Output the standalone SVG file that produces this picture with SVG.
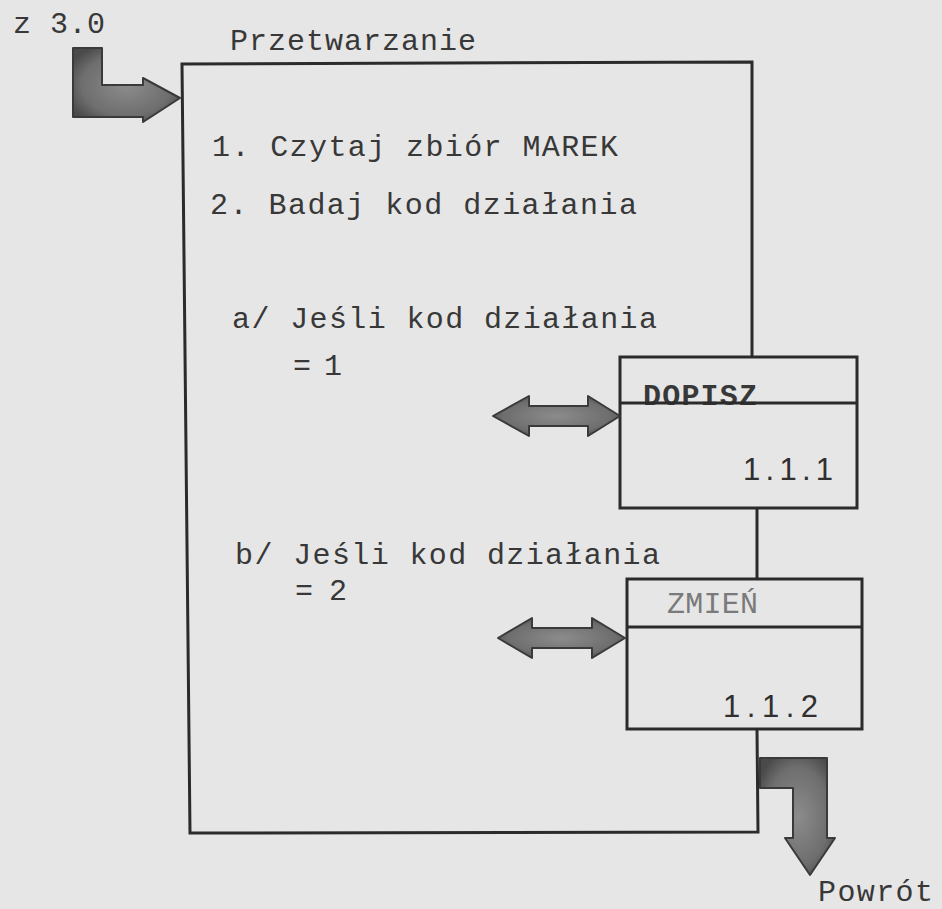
<svg xmlns="http://www.w3.org/2000/svg" width="942" height="909" viewBox="0 0 942 909">
  <defs>
    <radialGradient id="ink" cx="50%" cy="50%" r="60%">
      <stop offset="0" stop-color="#8c8c8c"/>
      <stop offset="0.7" stop-color="#6e6e6e"/>
      <stop offset="1" stop-color="#4a4a4a"/>
    </radialGradient>
  </defs>
  <style>
    .tw { font-family: "Liberation Mono", "Courier New", monospace; font-size: 30px; fill: #383838; }
    .num { font-family: "Liberation Sans", Arial, sans-serif; font-size: 31px; fill: #303030; }
    .edge { fill: none; stroke: #2b2b2b; stroke-width: 3; stroke-linejoin: miter; }
    .thick { fill: url(#ink); stroke: #3a3a3a; stroke-width: 2; stroke-linejoin: round; }
  </style>

  <!-- paper -->
  <rect x="0" y="0" width="942" height="909" fill="#e6e6e6"/>

  <!-- main process box -->
  <g id="przetwarzanie">
    <path class="edge" d="M752,357 L752,62 L182,64 L190,833 L758,832 L757,729"/>
    <path class="edge" d="M757,508 L757,579"/>
    <text class="tw" x="230" y="50" textLength="246" lengthAdjust="spacing">Przetwarzanie</text>
    <text class="tw" x="212" y="156" textLength="406" lengthAdjust="spacing">1. Czytaj zbiór MAREK</text>
    <text class="tw" x="210" y="214" textLength="427" lengthAdjust="spacing">2. Badaj kod działania</text>
    <text class="tw" x="232" y="328" textLength="425" lengthAdjust="spacing">a/ Jeśli kod działania</text>
    <text class="tw" x="293" y="375" textLength="49" lengthAdjust="spacing">= 1</text>
    <text class="tw" x="235" y="564" textLength="425" lengthAdjust="spacing">b/ Jeśli kod działania</text>
    <text class="tw" x="295" y="600" textLength="52" lengthAdjust="spacing">= 2</text>
  </g>

  <!-- module 1.1.1 -->
  <g id="dopisz">
    <text class="tw" x="643" y="405" font-size="27" font-weight="bold" textLength="114" lengthAdjust="spacing">DOPISZ</text>
    <rect class="edge" x="620" y="357" width="237" height="151"/>
    <line class="edge" x1="620" y1="403" x2="857" y2="403"/>
    <text class="num" x="743" y="480" textLength="90" lengthAdjust="spacing">1.1.1</text>
  </g>

  <!-- module 1.1.2 -->
  <g id="zmien">
    <rect class="edge" x="627" y="579" width="235" height="150"/>
    <line class="edge" x1="627" y1="627" x2="862" y2="627"/>
    <text class="tw" x="667" y="613" font-size="28" style="fill:#7a7a7a" textLength="91" lengthAdjust="spacing">ZMIEŃ</text>
    <text class="num" x="723" y="717" textLength="95" lengthAdjust="spacing">1.1.2</text>
  </g>

  <!-- flows -->
  <g id="connectors">
    <text class="tw" x="13" y="33" textLength="92" lengthAdjust="spacing">z 3.0</text>
    <path class="thick" d="M73,48 L102,48 L102,85 L143,85 L143,78 L180,98 L143,122 L143,117 L73,117 Z"/>
    <path class="thick" d="M493,416 L529,396 L529,406 L588,406 L588,396 L620,416 L588,436 L588,426 L529,426 L529,436 Z"/>
    <path class="thick" d="M498,638 L532,618 L532,628 L592,628 L592,618 L625,638 L592,658 L592,648 L532,648 L532,658 Z"/>
    <path class="thick" d="M760,758 L827,758 L827,838 L835,838 L810,875 L785,838 L793,838 L793,788 L760,788 Z"/>
    <text class="tw" x="818" y="901" textLength="115" lengthAdjust="spacing">Powrót</text>
  </g>
</svg>
